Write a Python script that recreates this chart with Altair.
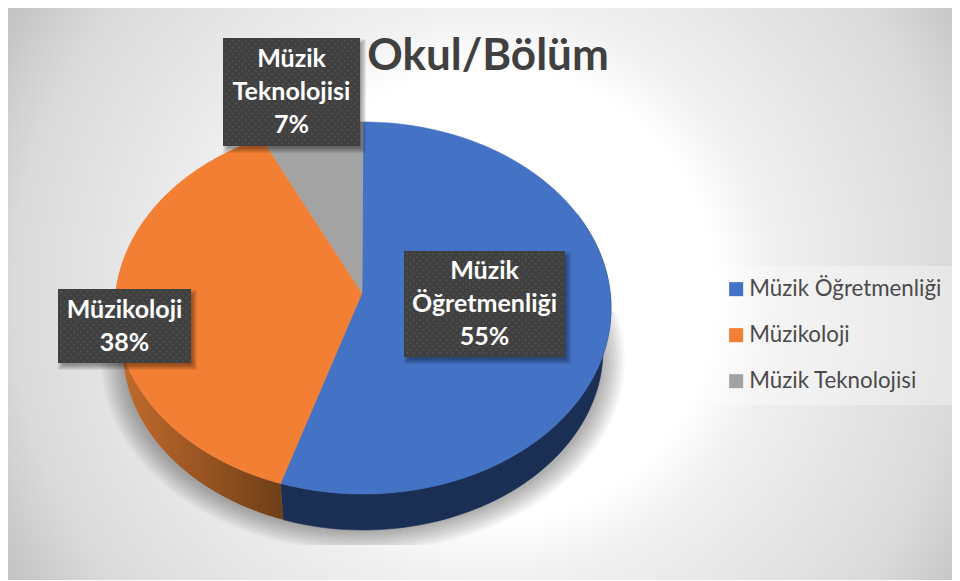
import numpy as np
import pandas as pd
import altair as alt

# ---- values ----
categories = ["Müzik Öğretmenliği", "Müzikoloji", "Müzik Teknolojisi"]
shares = [55.4, 37.9, 6.7]
label_lines = [["Müzik", "Öğretmenliği"], ["Müzikoloji"], ["Müzik", "Teknolojisi"]]
title_text = "Okul/Bölüm"

# ---- styling / geometry ----
W, H = 944, 572
top_colors = ["#4472C4", "#F37F34", "#A3A3A3"]
FONT = "Lato"
cx, cy, rx, ry = 363.0, 308.0, 248.0, 186.0
bx, by, brx, bry = 363.0, 350.0, 240.0, 180.0
vertex = (362.0, 293.0)
boxes = [(404, 251, 565, 357), (58, 289, 191, 363), (223, 38, 360, 146)]

xs = alt.Scale(domain=[8, 8 + W], nice=False, zero=False)
ys = alt.Scale(domain=[8 + H, 8], nice=False, zero=False)
X = alt.X("x:Q", scale=xs, axis=None)
Y = alt.Y("y:Q", scale=ys, axis=None)
X2 = alt.X2("x2:Q")
Y2 = alt.Y2("y2:Q")


def ell(c_x, c_y, r_x, r_y, deg):
    t = np.radians(deg)
    return c_x + r_x * np.sin(t), c_y - r_y * np.cos(t)


def poly_df(xv, yv):
    return pd.DataFrame({"x": xv, "y": yv, "i": np.arange(len(xv))})


def poly(xv, yv, fill, stroke=None, opacity=None):
    kw = dict(fill=fill, stroke=stroke or "transparent", strokeWidth=0.6, interpolate="linear-closed", clip=True)
    if opacity is not None:
        kw = dict(fill=fill, fillOpacity=opacity, stroke="transparent", strokeWidth=0, interpolate="linear-closed", clip=True)
    return alt.Chart(poly_df(xv, yv)).mark_line(**kw).encode(x=X, y=Y, order=alt.Order("i:Q"))


def strip(a, b):
    th = np.linspace(a, b, 90)
    x1, y1 = ell(cx, cy, rx, ry, th)
    x2, y2 = ell(bx, by, brx, bry, th[::-1])
    return np.r_[x1, x2], np.r_[y1, y2]


layers = []

# real legend, its source mark is hidden behind the background
legend_src = pd.DataFrame({"x": [700.0] * 3, "y": [300.0] * 3, "cat": categories})
layers.append(
    alt.Chart(legend_src).mark_point(filled=True, shape="square", size=10).encode(
        x=X, y=Y,
        color=alt.Color("cat:N", scale=alt.Scale(domain=categories, range=top_colors),
            legend=alt.Legend(orient="none", legendX=705, legendY=258, title=None, symbolType="square",
                symbolSize=196, symbolOpacity=1, symbolStrokeWidth=0, labelFont=FONT, labelFontSize=22.3, labelColor="#4a4a4a",
                labelOffset=2, rowPadding=23, padding=12, fillColor="rgba(255,255,255,0.33)",
                labelLimit=300)),
    )
)

# background
bg = pd.DataFrame({"x": [-120.0], "x2": [1100.0], "y": [-315.0], "y2": [905.0]})
layers.append(
    alt.Chart(bg).mark_rect(clip=True, fill={
        "gradient": "radial", "x1": 0.5, "y1": 0.5, "r1": 0, "x2": 0.5, "y2": 0.5, "r2": 0.5,
        "stops": [
            {"offset": 0.0, "color": "#ffffff"},
            {"offset": 0.37, "color": "#ffffff"},
            {"offset": 0.47, "color": "#f0f0f0"},
            {"offset": 0.78, "color": "#dadada"},
            {"offset": 0.92, "color": "#c2c2c2"},
            {"offset": 1.0, "color": "#bcbcbc"},
        ]}).encode(x=X, x2=X2, y=Y, y2=Y2)
)

# soft shadow under the pie
th_all = np.linspace(0, 360, 240)
for k in range(12):
    sx, sy = ell(363, 360, 240 + k * 2.0, 172 + k * 1.8, th_all)
    layers.append(poly(np.clip(sx, 98, 627), np.clip(sy, 312, 545), "#000000", opacity=0.026))

# pie side
sx, sy = strip(60, 199.4)
layers.append(poly(sx, sy, "#1B2F55", stroke="#1B2F55"))
sx, sy = strip(199.4, 285)
layers.append(poly(sx, sy, {
    "gradient": "linear", "x1": 0, "y1": 0, "x2": 1, "y2": 0,
    "stops": [{"offset": 0, "color": "#C56C2D"}, {"offset": 1, "color": "#6F3F18"}]}))

# pie top
cum = np.r_[0, np.cumsum(shares)] * 3.6
for a, b, col in zip(cum[:-1], cum[1:], top_colors):
    xe, ye = ell(cx, cy, rx, ry, np.linspace(a, b, 160))
    layers.append(poly(np.r_[vertex[0], xe], np.r_[vertex[1], ye], col, stroke=col))

# label boxes: shadow, body, dots
shadow_rows = []
for (x0, y0, x1, y1) in boxes:
    for k in range(6):
        g = 3 - k
        shadow_rows.append({"x": x0 + 3 - g, "x2": x1 + 3 + g, "y": y0 + 4 - g, "y2": y1 + 4 + g})
layers.append(alt.Chart(pd.DataFrame(shadow_rows)).mark_rect(color="#000000", opacity=0.07).encode(x=X, x2=X2, y=Y, y2=Y2))
layers.append(alt.Chart(pd.DataFrame([{"x": b[0], "y": b[1], "x2": b[2], "y2": b[3]} for b in boxes]))
              .mark_rect(color="#404040").encode(x=X, x2=X2, y=Y, y2=Y2))
dots = []
for (x0, y0, x1, y1) in boxes:
    for r, yy in enumerate(np.arange(y0 + 3, y1 - 1, 3.3)):
        for xx in np.arange(x0 + 3 + (3.3 if r % 2 else 0), x1 - 1, 6.6):
            dots.append({"x": xx, "y": yy})
layers.append(alt.Chart(pd.DataFrame(dots)).mark_point(filled=True, shape="square", size=3.5, color="#5c5c5c", opacity=0.55).encode(x=X, y=Y))

# label text
rows = []
for (x0, y0, x1, y1), lines, v in zip(boxes, label_lines, shares):
    all_lines = lines + [f"{round(v)}%"]
    mid = (y0 + y1) / 2
    for n, t in enumerate(all_lines):
        rows.append({"x": (x0 + x1) / 2, "y": mid + (n - (len(all_lines) - 1) / 2) * 33, "t": t})
layers.append(alt.Chart(pd.DataFrame(rows)).mark_text(font=FONT, fontWeight="bold", fontSize=25, color="#ffffff", baseline="middle", align="center")
              .encode(x=X, y=Y, text="t:N"))

# title
layers.append(alt.Chart(pd.DataFrame({"x": [488.0], "y": [57.0], "t": [title_text]}))
              .mark_text(font=FONT, fontWeight="bold", fontSize=44, color="#404040", baseline="middle", align="center")
              .encode(x=X, y=Y, text="t:N"))

chart = alt.layer(*layers).properties(width=W, height=H, padding=0, autosize="none").configure_view(stroke=None)
chart.save("out.html", embed_options={"renderer": "svg", "actions": False})
